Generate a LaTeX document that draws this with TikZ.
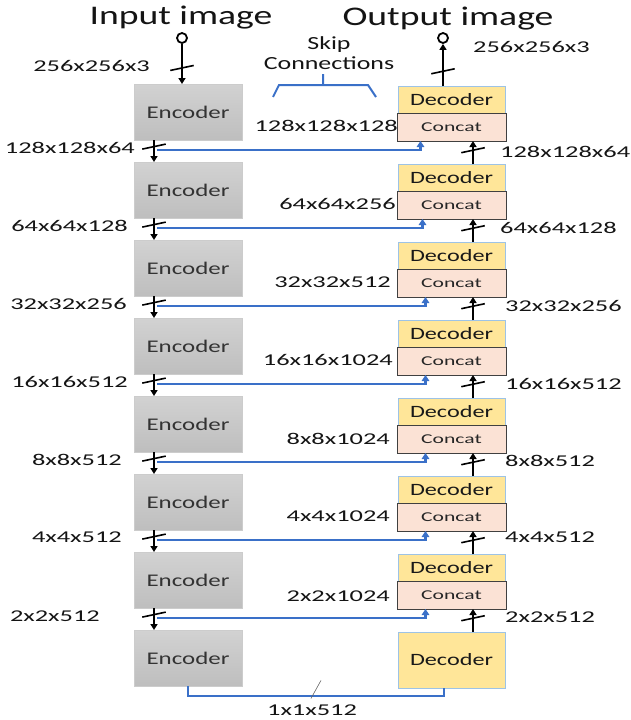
\documentclass[tikz,border=0pt]{standalone}
\usepackage{fontspec}
\setmainfont{Carlito}[FakeStretch=1.4]
\newfontfamily\dimfont{Carlito}[FakeStretch=1.6]
\usetikzlibrary{arrows.meta,positioning}

\definecolor{encTop}{RGB}{210,210,210}
\definecolor{encBot}{RGB}{190,190,190}
\definecolor{decFill}{RGB}{255,230,153}
\definecolor{decLine}{RGB}{157,195,230}
\definecolor{catFill}{RGB}{251,226,213}
\definecolor{skipBlue}{RGB}{58,112,200}

\begin{document}
\begin{tikzpicture}[
  x=1pt,y=-1pt,
  node distance=22pt,
  enc/.style={minimum width=108pt,minimum height=56pt,outer sep=0pt,inner sep=0pt,top color=encTop,bottom color=encBot,draw=black!20,font=\fontsize{17.8}{20}\selectfont,text=black!80},
  dec/.style={draw=decLine,fill=decFill,minimum width=107pt,minimum height=27pt,outer sep=0pt,inner sep=0pt,font=\fontsize{17.3}{20}\selectfont,text=black!90},
  cat/.style={draw=black!75,line width=0.8pt,fill=catFill,minimum width=109pt,minimum height=28pt,outer sep=0pt,inner sep=0pt,font=\dimfont\fontsize{13.5}{15}\selectfont,text=black!85},
  dim/.style={inner sep=0pt,font=\dimfont\fontsize{16.5}{18}\selectfont,text=black!92},
  title/.style={inner sep=0pt,font=\fontsize{26.9}{30}\selectfont,text=black!92},
  port/.style={circle,draw,line width=1.8pt,minimum size=10pt,inner sep=0pt},
  flow/.style={-{Triangle[length=6pt,width=7pt]},line width=1.8pt},
  skip/.style={-{Triangle[length=6pt,width=7.5pt]},line width=2.4pt,skipBlue},
  slash/.style={fill=black,minimum width=24pt,minimum height=1.6pt,inner sep=0pt,rotate=12}
]
\useasboundingbox (0,0) rectangle (630,720);

% titles
\node[title] (tin) at (181,18) {Input image};
\node[title] (tout) at (448,19) {Output image};
\node[inner sep=0pt,align=center,font=\fontsize{18.5}{20}\selectfont,text=black!92] (skiplbl) at (329,53) {Skip\\Connections};
\draw[skipBlue,line width=2pt] (273,97) -- (279,85) -- (368,85) -- (376,97) (323,85) -- (323,74);

% encoder column
\node[enc] (enc1) at (188,112) {Encoder};
\node[enc,below=of enc1] (enc2) {Encoder};
\node[enc,below=of enc2] (enc3) {Encoder};
\node[enc,below=of enc3] (enc4) {Encoder};
\node[enc,below=of enc4] (enc5) {Encoder};
\node[enc,below=of enc5] (enc6) {Encoder};
\node[enc,below=of enc6] (enc7) {Encoder};
\node[enc,below=of enc7] (enc8) {Encoder};

% decoder column
\node[dec] (dec1) at (451.5,99.5) {Decoder};
\node[cat,below=0pt of dec1] (cat1) {Concat};
\node[dec,below=23pt of cat1] (dec2) {Decoder};
\node[cat,below=0pt of dec2] (cat2) {Concat};
\node[dec,below=23pt of cat2] (dec3) {Decoder};
\node[cat,below=0pt of dec3] (cat3) {Concat};
\node[dec,below=23pt of cat3] (dec4) {Decoder};
\node[cat,below=0pt of dec4] (cat4) {Concat};
\node[dec,below=23pt of cat4] (dec5) {Decoder};
\node[cat,below=0pt of dec5] (cat5) {Concat};
\node[dec,below=23pt of cat5] (dec6) {Decoder};
\node[cat,below=0pt of dec6] (cat6) {Concat};
\node[dec,below=23pt of cat6] (dec7) {Decoder};
\node[cat,below=0pt of dec7] (cat7) {Concat};
\node[dec,minimum height=56pt,below=23pt of cat7] (dec8) {Decoder};

% input and output ports
\node[port] (in) at (182,38) {};
\node[port] (out) at (443,38) {};
\draw[flow] (in) -- node[slash,pos=.6]{} (in |- enc1.north);
\draw[flow] (out |- dec1.north) -- node[slash,pos=.35]{} (out);
\node[dim,anchor=east] (lin) at (150,66) {256x256x3};
\node[dim,anchor=west] (lout) at (473,47) {256x256x3};

% down path
\draw[flow] ([xshift=-34pt]enc1.south) -- node[slash,pos=.3]{} ([xshift=-34pt]enc2.north);
\draw[flow] ([xshift=-34pt]enc2.south) -- node[slash,pos=.3]{} ([xshift=-34pt]enc3.north);
\draw[flow] ([xshift=-34pt]enc3.south) -- node[slash,pos=.3]{} ([xshift=-34pt]enc4.north);
\draw[flow] ([xshift=-34pt]enc4.south) -- node[slash,pos=.3]{} ([xshift=-34pt]enc5.north);
\draw[flow] ([xshift=-34pt]enc5.south) -- node[slash,pos=.3]{} ([xshift=-34pt]enc6.north);
\draw[flow] ([xshift=-34pt]enc6.south) -- node[slash,pos=.3]{} ([xshift=-34pt]enc7.north);
\draw[flow] ([xshift=-34pt]enc7.south) -- node[slash,pos=.3]{} ([xshift=-34pt]enc8.north);
\node[dim,anchor=east] (l1) at (135,148) {128x128x64};
\node[dim,anchor=east] (l2) at (128,226) {64x64x128};
\node[dim,anchor=east] (l3) at (127,304) {32x32x256};
\node[dim,anchor=east] (l4) at (128,382) {16x16x512};
\node[dim,anchor=east] (l5) at (122,460) {8x8x512};
\node[dim,anchor=east] (l6) at (122,537) {4x4x512};
\node[dim,anchor=east] (l7) at (100,616) {2x2x512};

% skip connections
\draw[skip] ([xshift=-31pt,yshift=-10pt]enc1.south) -| ([xshift=-31pt]cat1.south);
\draw[skip] ([xshift=-31pt,yshift=-10pt]enc2.south) -| ([xshift=-29pt]cat2.south);
\draw[skip] ([xshift=-31pt,yshift=-10pt]enc3.south) -| ([xshift=-26pt]cat3.south);
\draw[skip] ([xshift=-31pt,yshift=-10pt]enc4.south) -| ([xshift=-26pt]cat4.south);
\draw[skip] ([xshift=-31pt,yshift=-10pt]enc5.south) -| ([xshift=-26pt]cat5.south);
\draw[skip] ([xshift=-31pt,yshift=-10pt]enc6.south) -| ([xshift=-26pt]cat6.south);
\draw[skip] ([xshift=-31pt,yshift=-10pt]enc7.south) -| ([xshift=-26pt]cat7.south);
\node[dim,anchor=east] (c1) at (398,126) {128x128x128};
\node[dim,anchor=east] (c2) at (396,204) {64x64x256};
\node[dim,anchor=east] (c3) at (391,282) {32x32x512};
\node[dim,anchor=east] (c4) at (393,360) {16x16x1024};
\node[dim,anchor=east] (c5) at (390,439) {8x8x1024};
\node[dim,anchor=east] (c6) at (390,516) {4x4x1024};
\node[dim,anchor=east] (c7) at (390,596) {2x2x1024};

% up path
\draw[flow] ([xshift=21.5pt]dec2.north) -- node[slash,pos=.6]{} ([xshift=21.5pt]cat1.south);
\draw[flow] ([xshift=21.5pt]dec3.north) -- node[slash,pos=.6]{} ([xshift=21.5pt]cat2.south);
\draw[flow] ([xshift=21.5pt]dec4.north) -- node[slash,pos=.6]{} ([xshift=21.5pt]cat3.south);
\draw[flow] ([xshift=21.5pt]dec5.north) -- node[slash,pos=.6]{} ([xshift=21.5pt]cat4.south);
\draw[flow] ([xshift=21.5pt]dec6.north) -- node[slash,pos=.6]{} ([xshift=21.5pt]cat5.south);
\draw[flow] ([xshift=21.5pt]dec7.north) -- node[slash,pos=.6]{} ([xshift=21.5pt]cat6.south);
\draw[flow] ([xshift=21.5pt]dec8.north) -- node[slash,pos=.6]{} ([xshift=21.5pt]cat7.south);
\node[dim,anchor=west] (r1) at (500,152) {128x128x64};
\node[dim,anchor=west] (r2) at (500,228) {64x64x128};
\node[dim,anchor=west] (r3) at (505,306) {32x32x256};
\node[dim,anchor=west] (r4) at (505,384) {16x16x512};
\node[dim,anchor=west] (r5) at (505,461) {8x8x512};
\node[dim,anchor=west] (r6) at (505,537) {4x4x512};
\node[dim,anchor=west] (r7) at (505,617) {2x2x512};

% bottleneck
\draw[skipBlue,line width=2.8pt] (enc8.south) -- ++(0,10) -| ([xshift=-7.5pt]dec8.south);
\node[dim] (bn) at (312,710) {1x1x512};
\draw[black!60,line width=0.6pt] ([xshift=9pt,yshift=24pt]bn.north) -- ([xshift=-1pt,yshift=6pt]bn.north);
\end{tikzpicture}
\end{document}
